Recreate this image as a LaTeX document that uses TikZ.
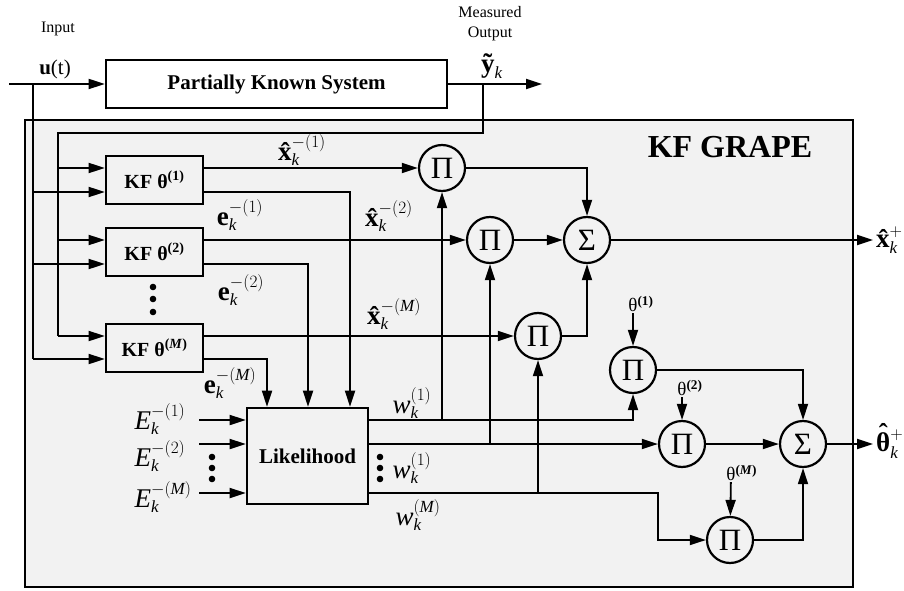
\documentclass[tikz,border=0pt]{standalone}
\usepackage{fontspec}
\setmainfont{Liberation Serif}
\usetikzlibrary{arrows.meta}
\DeclareMathSizes{27}{27}{17}{12}
\newcommand{\xhat}{\hbox{\bfseries x̂}}
\newcommand{\thhat}{\hbox{\bfseries\ooalign{θ\cr\hidewidth\raisebox{0.34em}{ˆ}\hidewidth\cr}}}

\begin{document}
\begin{tikzpicture}[x=1pt, y=1pt,
  conn/.style={line width=1.8pt},
  arr/.style={line width=1.8pt, -{Triangle[length=16pt, width=10pt]}},
  blk/.style={draw, line width=2.6pt, minimum height=48pt, inner sep=0pt},
  op/.style={draw, circle, line width=2.2pt, minimum size=46pt, inner sep=0pt, font=\fontsize{31}{31}\selectfont},
  lbl/.style={inner sep=0pt, font=\fontsize{27}{30}\selectfont},
  th/.style={inner sep=1pt, font=\fontsize{19}{20}\selectfont}]
\useasboundingbox (0,0) rectangle (904,590);
\filldraw[fill=black!5, line width=2.6pt] (25,3) rectangle (853,470);
\node[inner sep=0pt, font=\fontsize{32}{36}\selectfont\bfseries] (title) at (730,443) {KF GRAPE};
\node[blk, fill=white, minimum width=341pt, font=\fontsize{21}{24}\selectfont\bfseries] (plant) at (276.5,506) {Partially Known System};
\node[font=\fontsize{16}{18}\selectfont] (inlbl) at (58,561) {Input};
\node[font=\fontsize{16}{20}\selectfont, align=center] (outlbl) at (490,566) {Measured\\Output};
\node[inner sep=0pt, font=\fontsize{21}{24}\selectfont] (ulbl) at (55,521) {\textbf{u}(t)};
\node[lbl] (ylbl) at (492,524) {${\hbox{\bfseries ỹ}}_{\mathit{k}}$};
\coordinate (uin) at (9,506);
\coordinate (ubr) at (33,506);
\coordinate (ybr) at (483,506);
\coordinate (yout) at (542,506);
\coordinate (fbc) at (58,457);
\coordinate (fM) at (58,254);
\coordinate (uM) at (33,231);
\draw[arr] (uin) -- (plant);
\draw[arr] (plant) -- (yout);
\draw[conn] (ybr) |- (fbc) -- (fM);
\draw[conn] (ubr) -- (uM);
\node[blk, minimum width=97pt, font=\fontsize{20}{22}\selectfont\bfseries] (kf1) at (154.5,410) {KF θ\textsuperscript{(1)}};
\node[blk, minimum width=97pt, font=\fontsize{20}{22}\selectfont\bfseries] (kf2) at (154.5,338) {KF θ\textsuperscript{(2)}};
\node[blk, minimum width=97pt, font=\fontsize{20}{22}\selectfont\bfseries] (kfM) at (154.5,242) {KF θ\textsuperscript{(\textit{M})}};
\foreach \y in {303,291,278} \fill (153,\y) circle (3.3);
\coordinate (f1) at (58,422);
\coordinate (f2) at (58,350);
\coordinate (u1) at (33,398);
\coordinate (u2) at (33,326);
\draw[arr] (f1) -- (f1 -| kf1.west);
\draw[arr] (u1) -- (u1 -| kf1.west);
\draw[arr] (f2) -- (f2 -| kf2.west);
\draw[arr] (u2) -- (u2 -| kf2.west);
\draw[arr] (fM) -- (fM -| kfM.west);
\draw[arr] (uM) -- (uM -| kfM.west);
\node[blk, minimum width=121pt, minimum height=96pt, font=\fontsize{21}{24}\selectfont\bfseries] (lik) at (307.5,134) {Likelihood};
\node[op] (pi1) at (442,422) {Π};
\node[op] (pi2) at (490,350) {Π};
\node[op] (pi3) at (538,254) {Π};
\node[op] (sig1) at (587,350) {Σ};
\node[op] (pi4) at (633,220) {Π};
\node[op] (pi5) at (682,146) {Π};
\node[op] (pi6) at (730,50) {Π};
\node[op] (sig2) at (803,146) {Σ};
\coordinate (e1) at (350,398);
\coordinate (e2) at (308,326);
\coordinate (eM) at (267,231);
\draw[arr] (kf1.east |- pi1) -- (pi1);
\draw[arr] (e1 -| kf1.east) -- (e1) -- (e1 |- lik.north);
\draw[arr] (kf2.east |- pi2) -- (pi2);
\draw[arr] (e2 -| kf2.east) -- (e2) -- (e2 |- lik.north);
\draw[arr] (kfM.east |- pi3) -- (pi3);
\draw[arr] (eM -| kfM.east) -- (eM) -- (eM |- lik.north);
\coordinate (E1) at (199,170);
\coordinate (E2) at (199,146);
\coordinate (EM) at (199,97);
\draw[arr] (E1) -- (E1 -| lik.west);
\draw[arr] (E2) -- (E2 -| lik.west);
\draw[arr] (EM) -- (EM -| lik.west);
\foreach \x in {212,380} \foreach \y in {133,122,111} \fill (\x,\y) circle (3.3);
\coordinate (wa) at (633,170);
\coordinate (wc) at (658,97);
\draw[arr] (wa -| lik.east) -- (wa) -- (pi4);
\draw[arr] (pi1 |- wa) -- (pi1);
\draw[arr] (pi5 -| lik.east) -- (pi5);
\draw[arr] (pi2 |- pi5) -- (pi2);
\draw[arr] (wc -| lik.east) -- (wc) |- (pi6);
\draw[arr] (pi3 |- wc) -- (pi3);
\draw[arr] (pi1) -| (sig1);
\draw[arr] (pi2) -- (sig1);
\draw[arr] (pi3) -| (sig1);
\draw[arr] (pi4) -| (sig2);
\draw[arr] (pi5) -- (sig2);
\draw[arr] (pi6) -| (sig2);
\coordinate (xout) at (873,350);
\coordinate (thout) at (873,146);
\draw[arr] (sig1) -- (xout);
\draw[arr] (sig2) -- (thout);
\node[lbl, anchor=west] (xlbl) at (876,350) {$\xhat_{\mathit{k}}^{+}$};
\node[lbl, anchor=west] (thlbl) at (876,146) {$\thhat_{\mathit{k}}^{+}$};
\node[th] (th1) at (633,286) {θ\rlap{\textsuperscript{\bfseries(1)}}};
\node[th] (th2) at (682,202) {θ\rlap{\textsuperscript{\bfseries(2)}}};
\node[th] (thM) at (731,117) {θ\rlap{\textsuperscript{\bfseries(\textit{M})}}};
\draw[arr] (th1) -- (pi4);
\draw[arr] (th2) -- (pi5);
\draw[arr] (thM) -- (pi6);
\node[lbl] (x1lbl) at (302,440) {$\xhat_{\mathit{k}}^{-(1)}$};
\node[lbl] (x2lbl) at (389,374) {$\xhat_{\mathit{k}}^{-(2)}$};
\node[lbl] (xMlbl) at (394,276) {$\xhat_{\mathit{k}}^{-(\mathit{M})}$};
\node[lbl] (e1lbl) at (240,375) {$\mathbf{e}_{\mathit{k}}^{-(1)}$};
\node[lbl] (e2lbl) at (241,300) {$\mathbf{e}_{\mathit{k}}^{-(2)}$};
\node[lbl] (eMlbl) at (230,207) {$\mathbf{e}_{\mathit{k}}^{-(\mathit{M})}$};
\node[lbl] (E1lbl) at (160,171) {$\mathit{E}_{\mathit{k}}^{-(1)}$};
\node[lbl] (E2lbl) at (160,134) {$\mathit{E}_{\mathit{k}}^{-(2)}$};
\node[lbl] (EMlbl) at (163,93) {$\mathit{E}_{\mathit{k}}^{-(\mathit{M})}$};
\node[lbl] (w1lbl) at (412,187) {$\mathit{w}_{\mathit{k}}^{(1)}$};
\node[lbl] (w2lbl) at (412,122) {$\mathit{w}_{\mathit{k}}^{(1)}$};
\node[lbl] (wMlbl) at (418,75) {$\mathit{w}_{\mathit{k}}^{(\mathit{M})}$};
\end{tikzpicture}
\end{document}
